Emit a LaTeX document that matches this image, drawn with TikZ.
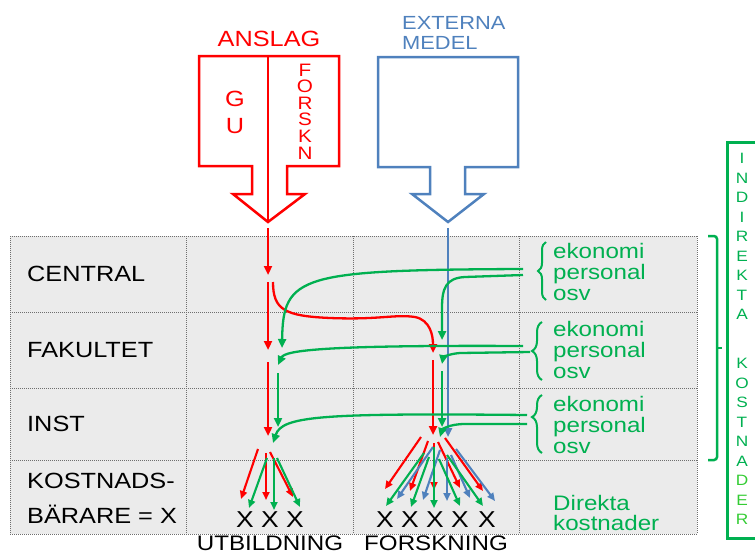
\documentclass[tikz,border=0pt]{standalone}
\usepackage{fontspec}
\setmainfont{Liberation Sans}[FakeStretch=1.15]
\usetikzlibrary{arrows.meta,decorations.pathreplacing}

\definecolor{anslagred}{RGB}{255,0,0}
\definecolor{extblue}{RGB}{79,129,189}
\definecolor{costgreen}{RGB}{0,176,80}
\definecolor{lightgreen}{RGB}{51,204,51}
\definecolor{cellgray}{RGB}{235,235,235}
\definecolor{gridgray}{RGB}{110,110,110}

\tikzset{
  gridline/.style={draw=gridgray,line width=0.8pt,dash pattern=on 1pt off 1pt},
  blockarrow/.style={line width=2.5pt,line join=miter},
  flow/.style={line width=2.3pt,-{Triangle[length=9pt,width=8pt]}},
  fanarrow/.style={line width=2.1pt,-{Triangle[length=8pt,width=7pt]}},
  costbrace/.style={draw=costgreen,line width=2pt,decorate}
}

\begin{document}
\begin{tikzpicture}[x=1pt,y=-1pt]
  \useasboundingbox (0,0) rectangle (755,554);

  % table
  \fill[cellgray] (10,236) rectangle (697,534);
  \foreach \y in {236,312,388,460,534}
    \draw[gridline] (10,\y) -- (697,\y);
  \foreach \x in {10,186,353,519,697}
    \draw[gridline] (\x,236) -- (\x,534);

  \begin{scope}[every node/.style={anchor=west,inner sep=0pt,align=left,
      font=\fontsize{22}{35}\selectfont}]
    \node (central)  at (27,274) {CENTRAL};
    \node (fakultet) at (27,350) {FAKULTET};
    \node (inst)     at (27,424) {INST};
    \node (barare)   at (27,498) {KOSTNADS-\\BÄRARE = X};
  \end{scope}

  % block arrows
  \draw[blockarrow,anslagred] (199,56) -- (339,56) -- (339,166) -- (287,166)
    -- (287,194) -- (305,194) -- (268,222) -- (233,194) -- (252,194)
    -- (252,166) -- (199,166) -- cycle;
  \coordinate (anslagtop) at (268,56);
  \coordinate (anslagtip) at (268,222);
  \draw[blockarrow,anslagred] (anslagtop) -- (anslagtip);
  \draw[blockarrow,extblue] (378,57) -- (518,57) -- (518,167) -- (465,167)
    -- (465,194) -- (484,194) -- (448,222) -- (412,194) -- (430,194)
    -- (430,167) -- (378,167) -- cycle;

  \node[anslagred,font=\fontsize{22}{22}\selectfont] (anslag) at (269,39) {ANSLAG};
  \node[anslagred,align=center,font=\fontsize{22}{27}\selectfont] (gu) at (235,112.5) {G\\U};
  \node[anslagred,align=center,font=\fontsize{18}{16.6}\selectfont] (forskn) at (305,111.5)
    {F\\O\\R\\S\\K\\N};
  \node[extblue,anchor=west,align=left,inner sep=0pt,font=\fontsize{19}{20}\selectfont]
    (externa) at (402,33) {EXTERNA\\MEDEL};

  % red flow
  \coordinate (r0) at (268,228);
  \coordinate (r1) at (268,275);
  \coordinate (r2) at (268,282);
  \coordinate (r3) at (268,350);
  \coordinate (r4) at (268,362);
  \coordinate (r5) at (268,436);
  \coordinate (r6) at (433,360);
  \coordinate (r7) at (433,435);
  \coordinate (rc0) at (273,282);
  \coordinate (rc1) at (433,353);
  \draw[flow,anslagred] (r0) -- (r1);
  \draw[flow,anslagred] (r2) -- (r3);
  \draw[flow,anslagred] (r4) -- (r5);
  \draw[flow,anslagred] (rc0) .. controls (273,310) and (285,316) .. (330,318)
    .. controls (380,320) and (395,314) .. (415,317)
    .. controls (430,320) and (433,335) .. (rc1);
  \draw[flow,anslagred] (r6) -- (r7);

  % blue flow
  \coordinate (b0) at (448,228);
  \coordinate (b1) at (448,437);
  \draw[flow,extblue] (b0) -- (b1);

  % green flow
  \coordinate (g1s) at (523,269);
  \coordinate (g1e) at (282,348);
  \coordinate (g2s) at (523,275);
  \coordinate (g2e) at (442,340);
  \coordinate (g3s) at (523,346);
  \coordinate (g3e) at (278,365);
  \coordinate (g4s) at (530,352);
  \coordinate (g4e) at (442,364);
  \coordinate (g5s) at (278,373);
  \coordinate (g5e) at (278,427);
  \coordinate (g6s) at (442,371);
  \coordinate (g6e) at (442,427);
  \coordinate (g7s) at (527,415);
  \coordinate (g7e) at (273,443);
  \coordinate (g8s) at (527,424);
  \coordinate (g8e) at (440,437);
  \draw[flow,costgreen] (g1s) .. controls (300,270) and (283,275) .. (g1e);
  \draw[flow,costgreen] (g2s) -- (465,277) .. controls (446,278) and (442,288) .. (442,308) -- (g2e);
  \draw[flow,costgreen] (g3s) .. controls (330,345) and (285,350) .. (g3e);
  \draw[flow,costgreen] (g4s) -- (460,353) .. controls (447,354) and (443,358) .. (g4e);
  \draw[flow,costgreen] (g5s) -- (g5e);
  \draw[flow,costgreen] (g6s) -- (g6e);
  \draw[flow,costgreen] (g7s) .. controls (320,413) and (282,416) .. (g7e);
  \draw[flow,costgreen] (g8s) -- (465,424) .. controls (448,424) and (442,430) .. (g8e);

  % fans to the cost bearers
  \foreach \sx/\sy/\ex/\ey [count=\i] in {258/449/241/499,266/453/266/500,270/452/293/497}{
    \coordinate (ur\i) at (\sx,\sy);
    \coordinate (urx\i) at (\ex,\ey);
    \draw[fanarrow,anslagred] (ur\i) -- (urx\i);
  }
  \foreach \sx/\sy/\ex/\ey [count=\i] in {267/458/249/508,274/458/274/510,277/458/300/507}{
    \coordinate (ug\i) at (\sx,\sy);
    \coordinate (ugx\i) at (\ex,\ey);
    \draw[fanarrow,costgreen] (ug\i) -- (ugx\i);
  }
  \foreach \sx/\sy/\ex/\ey [count=\i] in {421/437/385/489,428/441/410/491,434/443/434/490,
      438/442/460/488,445/438/483/491}{
    \coordinate (fr\i) at (\sx,\sy);
    \coordinate (frx\i) at (\ex,\ey);
    \draw[fanarrow,anslagred] (fr\i) -- (frx\i);
  }
  \foreach \sx/\sy/\ex/\ey [count=\i] in {433/447/397/499,440/450/423/500,447/458/447/501,
      451/455/470/498,456/449/495/501}{
    \coordinate (fb\i) at (\sx,\sy);
    \coordinate (fbx\i) at (\ex,\ey);
    \draw[fanarrow,extblue] (fb\i) -- (fbx\i);
  }
  \foreach \sx/\sy/\ex/\ey [count=\i] in {424/453/386/506,429/457/411/507,434/447/434/508,
      439/459/460/506,447/455/483/506}{
    \coordinate (fg\i) at (\sx,\sy);
    \coordinate (fgx\i) at (\ex,\ey);
    \draw[fanarrow,costgreen] (fg\i) -- (fgx\i);
  }

  \begin{scope}[every node/.style={font=\fontsize{23}{23}\selectfont,inner sep=0pt}]
    \foreach \x [count=\i] in {245,270,295}
      \node (ux\i) at (\x,520) {X};
    \foreach \x [count=\i] in {385,410,435,460,487}
      \node (fx\i) at (\x,520) {X};
  \end{scope}
  \node[font=\fontsize{21}{21}\selectfont,inner sep=0pt] (utbildning) at (270,543) {UTBILDNING};
  \node[font=\fontsize{21}{21}\selectfont,inner sep=0pt] (forskning) at (436,543) {FORSKNING};

  % indirect costs
  \begin{scope}[every node/.style={costgreen,anchor=north west,align=left,inner sep=0pt,
      font=\fontsize{21}{21}\selectfont}]
    \node (adm1) at (553,243) {ekonomi\\personal\\osv};
    \node (adm2) at (553,321) {ekonomi\\personal\\osv};
    \node (adm3) at (553,396) {ekonomi\\personal\\osv};
    \node[font=\fontsize{21}{20}\selectfont] (direkta) at (553,495) {Direkta\\kostnader};
  \end{scope}
  \draw[costbrace,decoration={brace,amplitude=8pt}] (546,300) -- (546,242);
  \draw[costbrace,decoration={brace,amplitude=10pt}] (542,380) -- (542,322);
  \draw[costbrace,decoration={brace,amplitude=10pt,aspect=0.62}] (542,453) -- (542,395);

  \draw[costgreen,line width=2.5pt,rounded corners=3pt] (708,236) -- (717,236)
    -- (717,460) -- (708,460);
  \draw[costgreen,line width=2.5pt] (717,348) -- (722,348);
  \draw[costgreen,line width=3pt] (727,142) rectangle (770,538);
  \begin{scope}[every node/.style={align=center,inner sep=0pt,
      font=\fontsize{15}{19.5}\selectfont}]
    \node[costgreen] (indirekta) at (742,236.5) {I\\N\\D\\I\\R\\E\\K\\T\\A};
    \node[costgreen] (kostnader) at (742,441.5)
      {K\\O\\S\\T\\N\\A\\{\color{lightgreen}D}\\{\color{lightgreen}E}\\{\color{lightgreen}R}};
  \end{scope}

\end{tikzpicture}
\end{document}
